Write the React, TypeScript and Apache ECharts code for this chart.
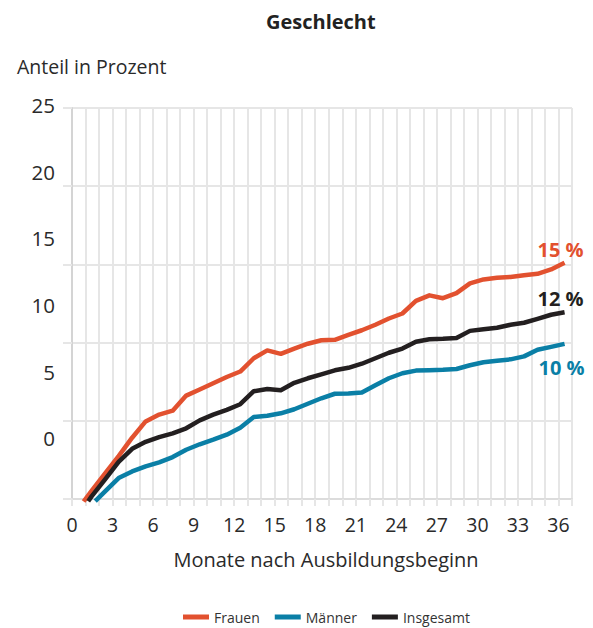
import React, { useEffect, useRef } from "react";
import * as echarts from "echarts";

// Reading positions (months after start of training) of the curve points
const messMonate = [
  1.45, 2.45, 3.45, 4.45, 5.45, 6.45, 7.45, 8.45, 9.45, 10.45, 11.45, 12.45,
  13.45, 14.45, 15.45, 16.45, 17.45, 18.45, 19.45, 20.45, 21.45, 22.45, 23.45,
  24.45, 25.45, 26.45, 27.45, 28.45, 29.45, 30.45, 31.45, 32.45, 33.45, 34.45,
  35.45, 36.45,
];

// first visible point of each curve [month, percent]
const frauenStart = [0.86, -0.16];
const maennerStart = [1.72, -0.14];
const insgesamtStart = [1.2, -0.14];

const frauen = [
  0.52, 1.63, 2.74, 3.92, 4.96, 5.4, 5.65, 6.61, 7.0, 7.4, 7.8, 8.15, 9.0, 9.5,
  9.28, 9.62, 9.93, 10.15, 10.18, 10.5, 10.79, 11.14, 11.54, 11.86, 12.67,
  13.02, 12.84, 13.16, 13.79, 14.04, 14.14, 14.2, 14.3, 14.4, 14.68, 15.1,
];
const maenner = [
  null, 0.49, 1.34, 1.76, 2.08, 2.34, 2.68, 3.15, 3.5, 3.79, 4.11, 4.56, 5.24,
  5.32, 5.48, 5.74, 6.09, 6.44, 6.73, 6.75, 6.81, 7.27, 7.72, 8.04, 8.21, 8.24,
  8.26, 8.31, 8.55, 8.74, 8.84, 8.93, 9.12, 9.54, 9.73, 9.92,
];
const insgesamt = [
  0.17, 1.25, 2.37, 3.21, 3.66, 3.96, 4.2, 4.52, 5.03, 5.39, 5.7, 6.06, 6.89,
  7.03, 6.95, 7.43, 7.72, 7.97, 8.23, 8.39, 8.65, 9.0, 9.35, 9.62, 10.06,
  10.21, 10.24, 10.29, 10.75, 10.85, 10.95, 11.14, 11.27, 11.52, 11.78, 11.94,
];

const yTickValues = [0, 5, 10, 15, 20, 25];
const seriesNames = ["Frauen", "Männer", "Insgesamt"];

const FONT = "'Open Sans', 'Noto Sans', sans-serif";
const RED = "#e2512f";
const BLUE = "#0a7fa6";
const BLACK = "#231f20";
const GRID = "#e6e6e6";
const TEXT = "#2a2a2a";

function buildData(start: number[], values: (number | null)[], labelOffset: number[], color: string) {
  const out: any[] = [{ value: start }];
  values.forEach((v, i) => {
    if (v === null) return;
    const isLast = i === values.length - 1;
    if (isLast) {
      out.push({
        value: [messMonate[i], v],
        label: {
          show: true,
          position: "inside",
          offset: labelOffset,
          formatter: (p: any) => Math.round(p.value[1]) + " %",
          color,
          fontFamily: FONT,
          fontWeight: "bold",
          fontSize: 20,
        },
      });
    } else {
      out.push({ value: [messMonate[i], v] });
    }
  });
  return out;
}

export default function App() {
  const ref = useRef<HTMLDivElement>(null);
  useEffect(() => {
    if (!ref.current) return;
    const chart = echarts.init(ref.current, undefined, { renderer: "svg" });
    const lineSeries = (name: string, color: string, data: any[]) => ({
      name,
      type: "line",
      xAxisIndex: 0,
      yAxisIndex: 0,
      data,
      showSymbol: true,
      symbol: "circle",
      symbolSize: 0,
      lineStyle: { color, width: 4.5, cap: "butt", join: "round" },
      itemStyle: { color },
      label: { show: false },
      emphasis: { disabled: true },
      clip: false,
      z: 3,
    });
    chart.setOption({
      animation: false,
      textStyle: { fontFamily: FONT },
      title: [
        {
          text: "Geschlecht",
          left: 261,
          top: 6,
          textStyle: { fontFamily: FONT, fontWeight: "bold", fontSize: 20, color: "#222" },
        },
        {
          text: "Anteil in Prozent",
          left: 12,
          top: 51,
          textStyle: { fontFamily: FONT, fontWeight: "normal", fontSize: 19.5, color: TEXT },
        },
      ],
      legend: {
        data: seriesNames,
        left: 178,
        top: 605,
        icon: "rect",
        itemWidth: 26,
        itemHeight: 5,
        itemGap: 15,
        textStyle: { fontFamily: FONT, fontSize: 14, color: "#333" },
      },
      grid: [
        { left: 72, right: 21, top: 108, bottom: 129, containLabel: false },
        // grid carrying only the (shifted) value labels of the y axis
        { left: 72, right: 21, top: 105, bottom: 189.7, containLabel: false },
      ],
      xAxis: [
        {
          type: "value",
          gridIndex: 0,
          min: 0,
          max: 37,
          interval: 1,
          name: "Monate nach Ausbildungsbeginn",
          nameLocation: "middle",
          nameGap: 50,
          nameTextStyle: { fontFamily: FONT, fontSize: 20, color: TEXT, padding: [0, 0, 0, 8] },
          axisLine: { show: true, lineStyle: { color: "#dcdcdc", width: 2 } },
          axisTick: { show: true, length: 7, lineStyle: { color: GRID, width: 2 } },
          axisLabel: {
            margin: 15,
            fontFamily: FONT,
            fontSize: 19.5,
            color: TEXT,
            formatter: (v: number) => (v % 3 === 0 && v <= 36 ? String(v) : ""),
          },
          splitLine: { show: true, lineStyle: { color: GRID, width: 2 } },
        },
        {
          type: "value",
          gridIndex: 1,
          show: false,
          min: 0,
          max: 1,
        },
      ],
      yAxis: [
        {
          type: "value",
          gridIndex: 0,
          min: 0,
          max: 25,
          interval: 5,
          position: "left",
          axisLine: { show: true, lineStyle: { color: "#d4d4d4", width: 2 } },
          axisTick: { show: true, length: 9, lineStyle: { color: GRID, width: 2 } },
          axisLabel: { show: false },
          splitLine: { show: true, lineStyle: { color: GRID, width: 2 } },
        },
        {
          type: "value",
          gridIndex: 1,
          min: 0,
          max: 25,
          interval: 5,
          position: "left",
          axisLine: { show: false },
          axisTick: { show: false },
          splitLine: { show: false },
          axisLabel: {
            show: true,
            margin: 17,
            fontFamily: FONT,
            fontSize: 20.5,
            color: TEXT,
            formatter: (v: number) => (yTickValues.includes(v) ? String(v) : ""),
          },
        },
      ],
      series: [
        lineSeries(seriesNames[0], RED, buildData(frauenStart, frauen, [-4, -13], RED)),
        lineSeries(seriesNames[1], BLUE, buildData(maennerStart, maenner, [-3, 24], BLUE)),
        lineSeries(seriesNames[2], BLACK, buildData(insgesamtStart, insgesamt, [-4, -14], BLACK)),
      ],
    });
    return () => chart.dispose();
  }, []);
  return (
    <div
      ref={ref}
      style={{ position: "absolute", left: 0, top: 0, width: 593, height: 628 }}
    />
  );
}
